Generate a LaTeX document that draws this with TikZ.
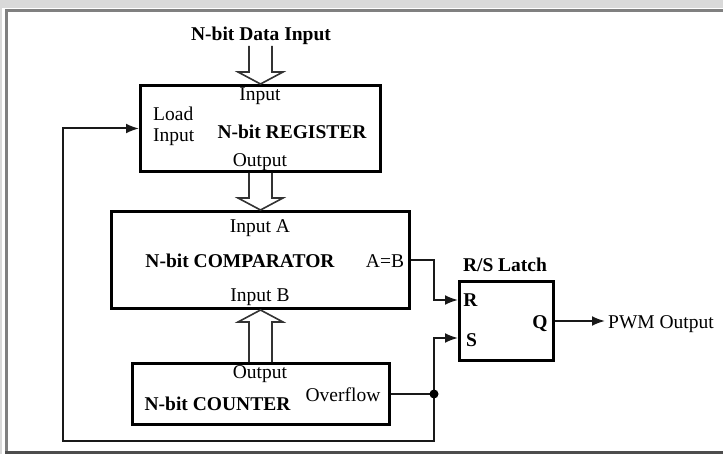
\documentclass[tikz,border=0pt]{standalone}
\usepackage{fontspec}
\setmainfont{Liberation Serif}
\usetikzlibrary{arrows.meta,calc}
\definecolor{bandgray}{HTML}{D9D9D9}
\definecolor{framegray}{HTML}{808080}
\definecolor{framedark}{HTML}{4D4D4D}
\begin{document}
\begin{tikzpicture}[x=1bp,y=-1bp,
  box/.style={draw=black,line width=3bp,inner sep=0pt},
  lbl/.style={font=\fontsize{19.5bp}{22bp}\selectfont,inner sep=0pt,anchor=base},
  blbl/.style={font=\fontsize{19.5bp}{22bp}\selectfont\bfseries,inner sep=0pt,anchor=base},
  conn/.style={line width=2bp,draw=black!90},
  arr/.style={conn,-{Latex[length=13bp,width=10bp]}},
  bus/.style={line width=1.6bp,draw=black!80,line join=miter},
  dot/.style={fill=black}
]
\useasboundingbox (0,0) rectangle (723,454);
% frame
\fill[bandgray] (0,0) rectangle (723,8.5);
\fill[bandgray] (0,0) rectangle (2,454);
\draw[framegray,line width=3bp] (6.5,454) -- (6.5,10.3) -- (723,10.3);
\draw[framedark,line width=3bp] (5,452.5) -- (723,452.5);

% boxes
\node[box,minimum width=240bp,minimum height=86bp] (reg) at (260.5,128.5) {};
\node[box,minimum width=298bp,minimum height=97bp] (comp) at (260.5,260) {};
\node[box,minimum width=257bp,minimum height=61bp] (cnt) at (261,394) {};
\node[box,minimum width=94bp,minimum height=79bp] (latch) at (506.5,321) {};

% texts
\node[blbl] (din) at (261,41) {N-bit Data Input};
\node[lbl] (regin) at (260,101) {Input};
\node[lbl,anchor=base west] (regload) at (153,121) {Load};
\node[lbl,anchor=base west] (regload2) at (153,141.5) {Input};
\node[blbl] (regname) at (292,139) {N-bit REGISTER};
\node[lbl] (regout) at (260,167) {Output};
\node[lbl] (cina) at (260,233) {Input A};
\node[blbl] (cname) at (240,268) {N-bit COMPARATOR};
\node[lbl] (ceq) at (385,268) {A=B};
\node[lbl] (cinb) at (260,302) {Input B};
\node[lbl] (kout) at (260,378) {Output};
\node[blbl] (kname) at (217.5,410) {N-bit COUNTER};
\node[lbl] (kovf) at (343,401) {Overflow};
\node[blbl] (lname) at (505,272) {R/S Latch};
\node[blbl] (lr) at (470.5,307) {R};
\node[blbl] (ls) at (471.5,347) {S};
\node[blbl] (lq) at (540,329) {Q};
\node[lbl,anchor=base west] (pwm) at (608,329) {PWM Output};

% hollow bus arrows
\draw[bus] ($(reg.north)+(-11.5,-38)$) -- ++(0,26) -- ++(-11,0) -- (reg.north)
  -- ++(22.5,-12) -- ++(-11,0) -- ++(0,-26);
\draw[bus] ($(reg.south)+(-11.5,0)$) -- ($(comp.north)+(-11.5,-12)$) -- ++(-11,0)
  -- (comp.north) -- ++(22.5,-12) -- ++(-11,0) -- ($(reg.south)+(11.5,0)$);
\draw[bus] ($(cnt.north -| comp.south)+(-11.5,0)$) -- ($(comp.south)+(-11.5,12)$) -- ++(-11,0)
  -- (comp.south) -- ++(22.5,12) -- ++(-11,0) -- ($(cnt.north -| comp.south)+(11.5,0)$);

% connectors
\coordinate (j) at ($(cnt.east)+(43,0)$);
\coordinate (latR) at ($(latch.west)+(0,-21)$);
\coordinate (latS) at ($(latch.west)+(0,17)$);
\coordinate (loopBL) at (63,441);
\draw[arr] (comp.east) -- ++(23,0) |- (latR);
\draw[conn] (cnt.east) -- (j);
\draw[arr] (j) |- (latS);
\draw[arr] (j) |- (loopBL) |- (reg.west);
\fill[dot] (j) circle (4.5bp);
\draw[arr] (latch.east) -- ($(latch.east -| pwm.west)+(-3,0)$);
\end{tikzpicture}
\end{document}
